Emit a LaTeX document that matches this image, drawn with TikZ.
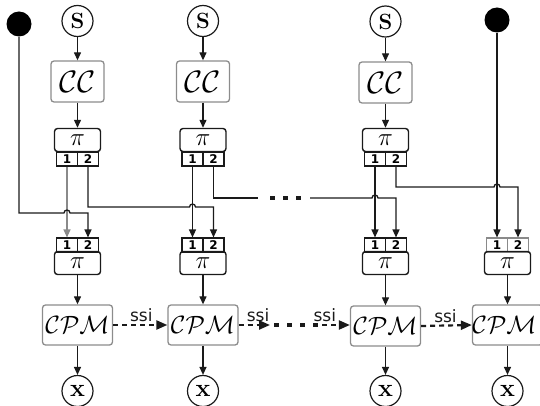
\RequirePackage{fix-cm}
\documentclass[tikz,border=0pt]{standalone}
\usepackage{fontspec}
\usetikzlibrary{calc,arrows.meta}
\newfontfamily\ssifont{DejaVu Sans}
\definecolor{boxGray}{HTML}{8C8C8C}
\definecolor{wireDark}{HTML}{1A1A1A}
\definecolor{wireLight}{HTML}{8A8A8A}

\begin{document}
\begin{tikzpicture}[
    x=1pt, y=-1pt,
    >={Triangle[length=8pt,width=7pt]},
    line width=1pt,
    src/.style={circle,draw=wireDark,line width=1.2pt,minimum size=31pt,inner sep=0pt,
      font=\fontsize{22}{22}\selectfont\bfseries},
    knob/.style={circle,fill=black,minimum size=25pt,inner sep=0pt},
    ccbox/.style={draw=boxGray,rounded corners=3pt,line width=1.3pt,minimum width=53pt,
      minimum height=41pt,inner sep=0pt,font=\fontsize{31}{31}\selectfont},
    pibox/.style={draw=wireDark,rounded corners=3pt,line width=1.4pt,minimum width=46pt,
      minimum height=23pt,inner sep=0pt,font=\fontsize{25}{25}\selectfont},
    slot/.style={draw=wireDark,line width=1.1pt,minimum width=21pt,minimum height=14pt,
      inner sep=0pt,font=\ssifont\bfseries\fontsize{12}{12}\selectfont},
    cpmbox/.style={draw=boxGray,rounded corners=3pt,line width=1.3pt,minimum width=70pt,
      minimum height=40pt,inner sep=0pt,font=\fontsize{25}{25}\selectfont},
    flow/.style={->,wireDark,line width=1.2pt},
    wire/.style={wireDark,line width=1.3pt},
    faint/.style={wireLight,line width=1.1pt},
    ssi/.style={->,wireDark,line width=2.2pt,dash pattern=on 5pt off 4pt,
      >={Triangle[length=11pt,width=9pt]}},
    ssilabel/.style={font=\ssifont\fontsize{17}{17}\selectfont,above,inner sep=2pt},
    gap/.style={wireDark,line width=4.5pt,dash pattern=on 5pt off 8pt},
  ]
  \useasboundingbox (0,0) rectangle (540,406);

  % Feeds and sources
  \node[knob] (dotL) at (19,24) {};
  \node[knob] (dotR) at (497,20) {};
  \node[src] (s1) at (77.5,21) {S};
  \node[src] (s2) at (203,21) {S};
  \node[src] (s3) at (385.5,21.5) {S};

  % Upper stage: CC and interleaver
  \node[ccbox] (cc1) at (77.5,81.5) {$\mathcal{C}\mathcal{C}$};
  \node[ccbox] (cc2) at (203,81.5) {$\mathcal{C}\mathcal{C}$};
  \node[ccbox] (cc3) at (385.5,82.5) {$\mathcal{C}\mathcal{C}$};
  \node[pibox] (piU1) at (77.5,140) {$\pi$};
  \node[pibox] (piU2) at (203,140) {$\pi$};
  \node[pibox] (piU3) at (385.5,140) {$\pi$};
  \node[slot] (u1a) at (67,159) {1};
  \node[slot] (u1b) at (88,159) {2};
  \node[slot] (u2a) at (192.5,159) {1};
  \node[slot] (u2b) at (213.5,159) {2};
  \node[slot] (u3a) at (375,159) {1};
  \node[slot] (u3b) at (396,159) {2};

  % Lower stage: deinterleaver, CPM and output
  \node[slot] (l1a) at (67,245) {1};
  \node[slot] (l1b) at (88,245) {2};
  \node[slot] (l2a) at (192.5,245) {1};
  \node[slot] (l2b) at (213.5,245) {2};
  \node[slot] (l3a) at (375,245) {1};
  \node[slot] (l3b) at (396,245) {2};
  \node[slot,draw=wireLight] (l4a) at (497,245) {1};
  \node[slot,draw=wireLight] (l4b) at (518,245) {2};
  \node[pibox] (piL1) at (77.5,263) {$\pi$};
  \node[pibox] (piL2) at (203,263) {$\pi$};
  \node[pibox] (piL3) at (385.5,263) {$\pi$};
  \node[pibox] (piL4) at (507.5,263) {$\pi$};
  \node[cpmbox] (cpm1) at (77.5,325) {$\mathcal{CPM}$};
  \node[cpmbox] (cpm2) at (203,325) {$\mathcal{CPM}$};
  \node[cpmbox] (cpm3) at (385.5,326) {$\mathcal{CPM}$};
  \node[cpmbox] (cpm4) at (507.5,325) {\hspace*{-3pt}$\mathcal{CPM}$\hspace*{3pt}};
  \node[src,font=\fontsize{25}{25}\selectfont\bfseries] (x1) at (77.5,391) {x};
  \node[src,font=\fontsize{25}{25}\selectfont\bfseries] (x2) at (203,391) {x};
  \node[src,font=\fontsize{25}{25}\selectfont\bfseries] (x3) at (385.5,391) {x};
  \node[src,font=\fontsize{25}{25}\selectfont\bfseries] (x4) at (507.5,391) {x};

  % Vertical flow in each column
  \draw[flow] (s1) -- (cc1);
  \draw[flow] (s2) -- (cc2);
  \draw[flow] (s3) -- (cc3);
  \draw[flow] (cc1) -- (piU1);
  \draw[flow] (cc2) -- (piU2);
  \draw[flow] (cc3) -- (piU3);
  \draw[flow] (piL1) -- (cpm1);
  \draw[flow] (piL2) -- (cpm2);
  \draw[flow] (piL3) -- (cpm3);
  \draw[flow] (piL4) -- (cpm4);
  \draw[flow] (cpm1) -- (x1);
  \draw[flow] (cpm2) -- (x2);
  \draw[flow] (cpm3) -- (x3);
  \draw[flow] (cpm4) -- (x4);

  % Wiring between the stages
  \coordinate (rowA) at (0,213);
  \coordinate (rowB) at (0,207);
  \coordinate (rowC) at (0,198);
  \coordinate (rowD) at (0,187);
  \coordinate (tailC) at (258,198);
  \coordinate (dotsA) at (270,198);
  \coordinate (dotsB) at (302,198);
  \coordinate (headC) at (310,198);
  \draw[faint,->] (u1a) -- (l1a);
  \draw[wire,->] (u2a) -- (l2a);
  \draw[wire,->] (u3a) -- (l3a);
  \draw[wire,->] (dotL) |- ($(u1a |- rowA)-(3,0)$)
    arc[start angle=180,end angle=360,radius=3] -- (l1b |- rowA) -- (l1b);
  \draw[wire,->] (u1b) |- ($(u2a |- rowB)-(3,0)$)
    arc[start angle=180,end angle=360,radius=3] -- (l2b |- rowB) -- (l2b);
  \draw[wire] (u2b) |- (tailC);
  \draw[gap] (dotsA) -- (dotsB);
  \draw[wire,->] (headC) -- ($(l3a |- rowC)-(3,0)$)
    arc[start angle=180,end angle=360,radius=3] -- (l3b |- rowC) -- (l3b);
  \draw[wire,->] (u3b) |- ($(dotR |- rowD)-(3,0)$)
    arc[start angle=180,end angle=360,radius=3] -- (l4b |- rowD) -- (l4b);
  \draw[wire,->] (dotR) -- (l4a);

  % Side information between CPM blocks
  \coordinate (midA) at (270,325);
  \coordinate (midB) at (322,325);
  \draw[ssi] (cpm1) -- (cpm2) node[ssilabel,pos=0.52] {ssi};
  \draw[ssi] (cpm2.east |- midA) -- (midA) node[ssilabel,pos=0.62] {ssi};
  \draw[gap] ($(midA)+(4,0)$) -- (midB);
  \draw[ssi] (midB) -- (cpm3.west |- midB) node[ssilabel,pos=0.1] {ssi};
  \draw[ssi] (cpm3.west -| cpm3.east) -- (cpm4.west) node[ssilabel,pos=0.48] {ssi};
\end{tikzpicture}
\end{document}
